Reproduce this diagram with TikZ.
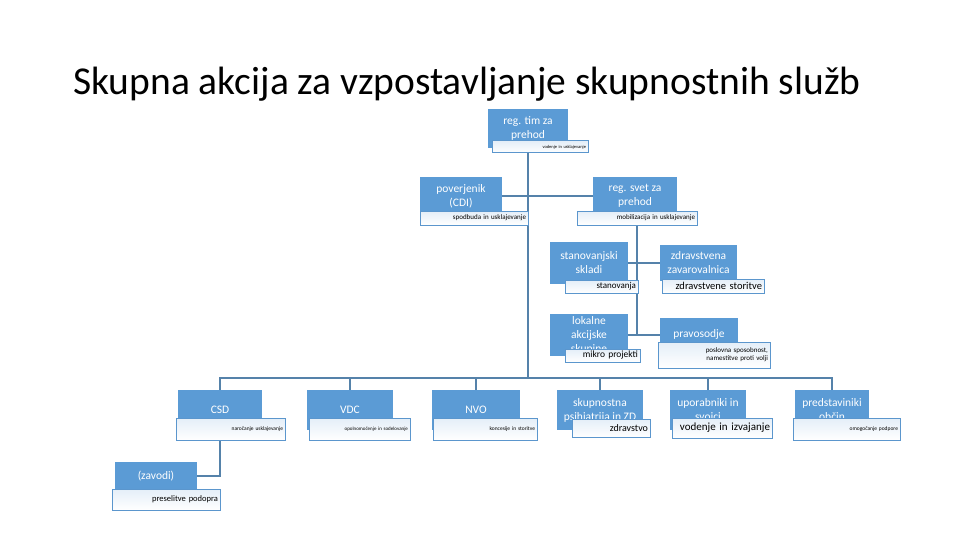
\documentclass[tikz,border=0pt]{standalone}
\usepackage{fontspec}
\setmainfont{Carlito}
\usetikzlibrary{positioning}
\usetikzlibrary{calc}
\usetikzlibrary{backgrounds}
\definecolor{figAzul}{RGB}{91,155,213}
\definecolor{figAzulBorde}{RGB}{91,150,205}
\definecolor{figLinea}{RGB}{85,130,170}
\definecolor{figClaro}{RGB}{228,238,248}
\tikzset{
  bloque/.style={
    rectangle, fill=figAzul, draw=none, text=white,
    align=center, inner sep=1pt,
    font=\fontsize{11.5}{14}\selectfont
  },
  bloques/.style={
    rectangle, draw=figAzulBorde, line width=1pt,
    top color=figClaro, bottom color=white,
    align=right, inner xsep=2pt, inner ysep=0pt, text=black
  },
  linea/.style={draw=figLinea, line width=1.6pt}
}
\begin{document}
\begin{tikzpicture}[x=1pt,y=-1pt]
  \useasboundingbox (0,0) rectangle (960,540);
  \node[anchor=base west, inner sep=0pt, font=\fontsize{39.5}{44}\selectfont] (titulo) at (73,95)
    {Skupna akcija za vzpostavljanje skupnostnih služb};

  % top
  \node[bloque, minimum width=80pt, minimum height=39pt] (tim) at (528,128.5) {reg. tim za\\prehod};
  \node[bloques, text width=92pt, minimum height=12pt, font=\fontsize{4.5}{5}\selectfont] (tim-s) at (540,147) {vodenje in usklajevanje};

  \node[bloque, minimum width=82pt, minimum height=38pt] (pov) at (461,196) {poverjenik\\(CDI)};
  \node[bloques, text width=104pt, minimum height=14pt, font=\fontsize{7}{8}\selectfont] (pov-s) at (474,218) {spodbuda in usklajevanje};

  \node[bloque, minimum width=84pt, minimum height=38pt] (svet) at (635,196) {reg. svet za\\prehod};
  \node[bloques, text width=116pt, minimum height=14pt, font=\fontsize{7}{8}\selectfont] (svet-s) at (637,218) {mobilizacija in usklajevanje};

  % middle
  \node[bloque, minimum width=78pt, minimum height=42pt] (stan) at (589,263) {stanovanjski\\skladi};
  \node[bloques, text width=69pt, minimum height=13pt, font=\fontsize{9}{10}\selectfont] (stan-s) at (601.5,286.5) {stanovanja};

  \node[bloque, minimum width=77pt, minimum height=36pt] (zdr) at (698.5,263) {zdravstvena\\zavarovalnica};
  \node[bloques, text width=98pt, minimum height=14pt, font=\fontsize{10.5}{11}\selectfont] (zdr-s) at (713,286) {zdravstvene storitve};

  \node[bloque, minimum width=78pt, minimum height=42pt] (lok) at (589,335) {lokalne\\akcijske\\skupine};
  \node[bloques, text width=71pt, minimum height=13pt, font=\fontsize{9.5}{10}\selectfont] (lok-s) at (602.5,355.5) {mikro projekti};

  \node[bloque, minimum width=78pt, minimum height=32pt] (pra) at (699,334) {pravosodje};
  \node[bloques, text width=108pt, minimum height=26pt, font=\fontsize{7}{8}\selectfont] (pra-s) at (714,355) {poslovna sposobnost,\\namestitve proti volji};

  % bottom row
  \node[bloque, minimum width=84pt, minimum height=40pt] (csd) at (220,410) {CSD};
  \node[bloques, text width=105pt, minimum height=22pt, font=\fontsize{5.5}{6}\selectfont] (csd-s) at (230.5,429) {naročanje usklajevanje};

  \node[bloque, minimum width=86pt, minimum height=40pt] (vdc) at (350,410) {VDC};
  \node[bloques, text width=97pt, minimum height=22pt, font=\fontsize{5}{6}\selectfont] (vdc-s) at (359.5,429) {opolnomočenje in sodelovanje};

  \node[bloque, minimum width=88pt, minimum height=40pt] (nvo) at (476,410) {NVO};
  \node[bloques, text width=100pt, minimum height=22pt, font=\fontsize{5.5}{6}\selectfont] (nvo-s) at (485,429) {koncesije in storitve};

  \node[bloque, minimum width=86pt, minimum height=40pt] (skp) at (600,410) {skupnostna\\psihiatrija in ZD};
  \node[bloques, text width=74pt, minimum height=18pt, font=\fontsize{10}{11}\selectfont] (skp-s) at (611,428) {zdravstvo};

  \node[bloque, minimum width=76pt, minimum height=40pt] (upo) at (708,410) {uporabniki in\\svojci};
  \node[bloques, text width=96pt, minimum height=20pt, font=\fontsize{11}{12}\selectfont] (upo-s) at (722,428) {vodenje in izvajanje};

  \node[bloque, minimum width=74pt, minimum height=40pt] (prd) at (832,410) {predstaviniki\\občin};
  \node[bloques, text width=103pt, minimum height=22pt, font=\fontsize{5.5}{6}\selectfont] (prd-s) at (846.5,429) {omogočanje podpore};

  \node[bloque, minimum width=82pt, minimum height=28pt] (zav) at (156,476) {(zavodi)};
  \node[bloques, text width=104pt, minimum height=21pt, font=\fontsize{8.5}{9}\selectfont] (zav-s) at (166,499.5) {preselitve podopra};

  % connectors behind the boxes
  \coordinate (bus) at (528,378);
  \begin{scope}[on background layer]
    \draw[linea] (tim.south |- tim-s.south) -- (bus);
    \draw[linea] (pov.east) -- (svet.west);
    \draw[linea] (svet-s.south) -- (svet-s.south |- lok.east);
    \draw[linea] (stan.east) -- (zdr.west);
    \draw[linea] (lok.east) -- (lok.east -| pra.west);
    \foreach \n in {csd,vdc,nvo,skp,upo,prd}
      \draw[linea] (bus) -| (\n.north);
    \draw[linea] (csd.south |- csd-s.south) |- (zav.east);
  \end{scope}
\end{tikzpicture}
\end{document}
